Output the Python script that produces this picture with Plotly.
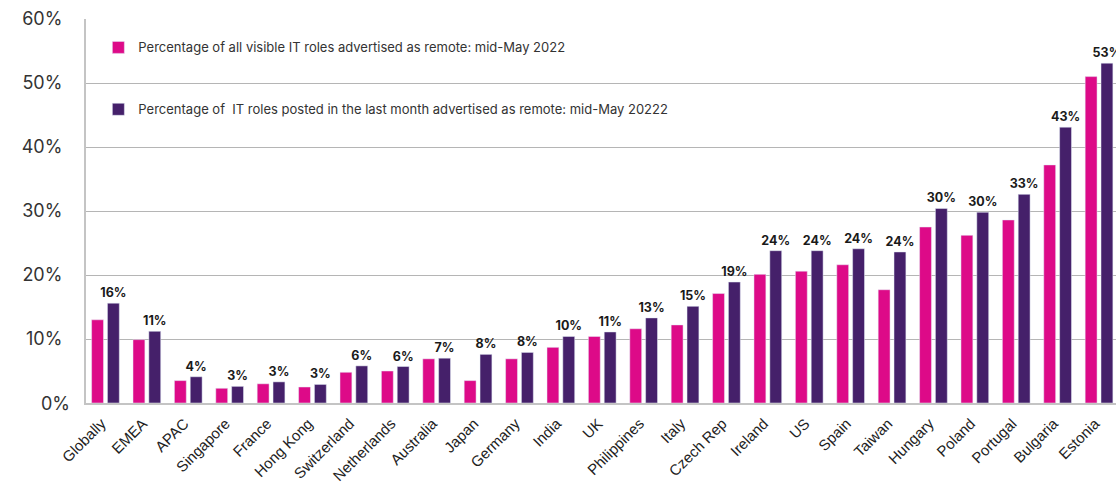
import plotly.graph_objects as go

# Remote-advertised share of IT roles by market (percent)
countries = [
    "Globally", "EMEA", "APAC", "Singapore", "France", "Hong Kong", "Switzerland",
    "Netherlands", "Australia", "Japan", "Germany", "India", "UK", "Philippines",
    "Italy", "Czech Rep", "Ireland", "US", "Spain", "Taiwan", "Hungary", "Poland",
    "Portugal", "Bulgaria", "Estonia",
]
all_visible = [
    13.0, 9.9, 3.5, 2.3, 3.0, 2.5, 4.8,
    5.0, 6.9, 3.5, 6.9, 8.7, 10.4, 11.6,
    12.2, 17.1, 20.1, 20.6, 21.6, 17.7, 27.5, 26.2,
    28.6, 37.2, 51.0,
]
last_month = [
    15.6, 11.2, 4.1, 2.6, 3.3, 2.9, 5.8,
    5.7, 7.0, 7.6, 7.9, 10.4, 11.1, 13.3,
    15.1, 18.9, 23.8, 23.8, 24.1, 23.6, 30.4, 29.8,
    32.6, 43.1, 53.1,
]
series_names = [
    "Percentage of all visible IT roles advertised as remote: mid-May 2022",
    "Percentage of  IT roles posted in the last month advertised as remote: mid-May 20222",
]
y_ticks = [0, 10, 20, 30, 40, 50, 60]

PINK = "#DD0A88"
PURPLE = "#45206A"
AXIS_FONT = "Inter"

fig = go.Figure()
fig.add_trace(go.Bar(
    x=countries, y=all_visible, name=series_names[0],
    marker=dict(color=PINK), legendgroup="a",
))
fig.add_trace(go.Bar(
    x=countries, y=last_month, name=series_names[1],
    marker=dict(color=PURPLE), legendgroup="b",
    texttemplate="%{y:.0f}%", textposition="outside", cliponaxis=False,
    constraintext="none",
    textfont=dict(family="Inter", size=12.5, color="#1a1a1a", weight="bold"),
))

# y tick labels: the zero label sits a little further right than the others
tick_text = ["" if v == 0 else f"{v}%" for v in y_ticks]

fig.update_layout(
    width=1116, height=485,
    margin=dict(l=86, r=0, t=19, b=82),
    paper_bgcolor="white", plot_bgcolor="white",
    barmode="group", bargap=0.235, bargroupgap=0.25,
    showlegend=True,
    legend=dict(
        x=0.012, y=0.965, xanchor="left", yanchor="top",
        bgcolor="rgba(0,0,0,0)", traceorder="grouped", tracegroupgap=42,
        font=dict(family="Inter", size=13, color="#333333"),
    ),
    xaxis=dict(
        tickangle=-45, showgrid=False, showline=True, linecolor="#c4c4c4", linewidth=2,
        tickfont=dict(family="Liberation Sans", size=15, color="#222222"),
        range=[-0.47, 24.41],
        ticklabelstandoff=4, ticklabelshift=-4,
    ),
    yaxis=dict(
        range=[0, 60], tickvals=y_ticks, ticktext=tick_text,
        showgrid=True, gridcolor="#b5b5b5", gridwidth=1,
        showline=True, linecolor="#c4c4c4", linewidth=2, zeroline=False,
        tickfont=dict(family=AXIS_FONT, size=18, color="#333333"),
        ticklabelstandoff=18,
    ),
    annotations=[dict(
        text="0%", x=72, xref="x domain", y=0, yref="y",
        xanchor="right", yanchor="middle", showarrow=False,
        font=dict(family=AXIS_FONT, size=18, color="#333333"),
    )],
)
# place the zero label in paper pixels left of the plot area
fig.layout.annotations[0].update(xref="paper", x=-(86 - 72) / 1030)

fig.write_html("out.html")
